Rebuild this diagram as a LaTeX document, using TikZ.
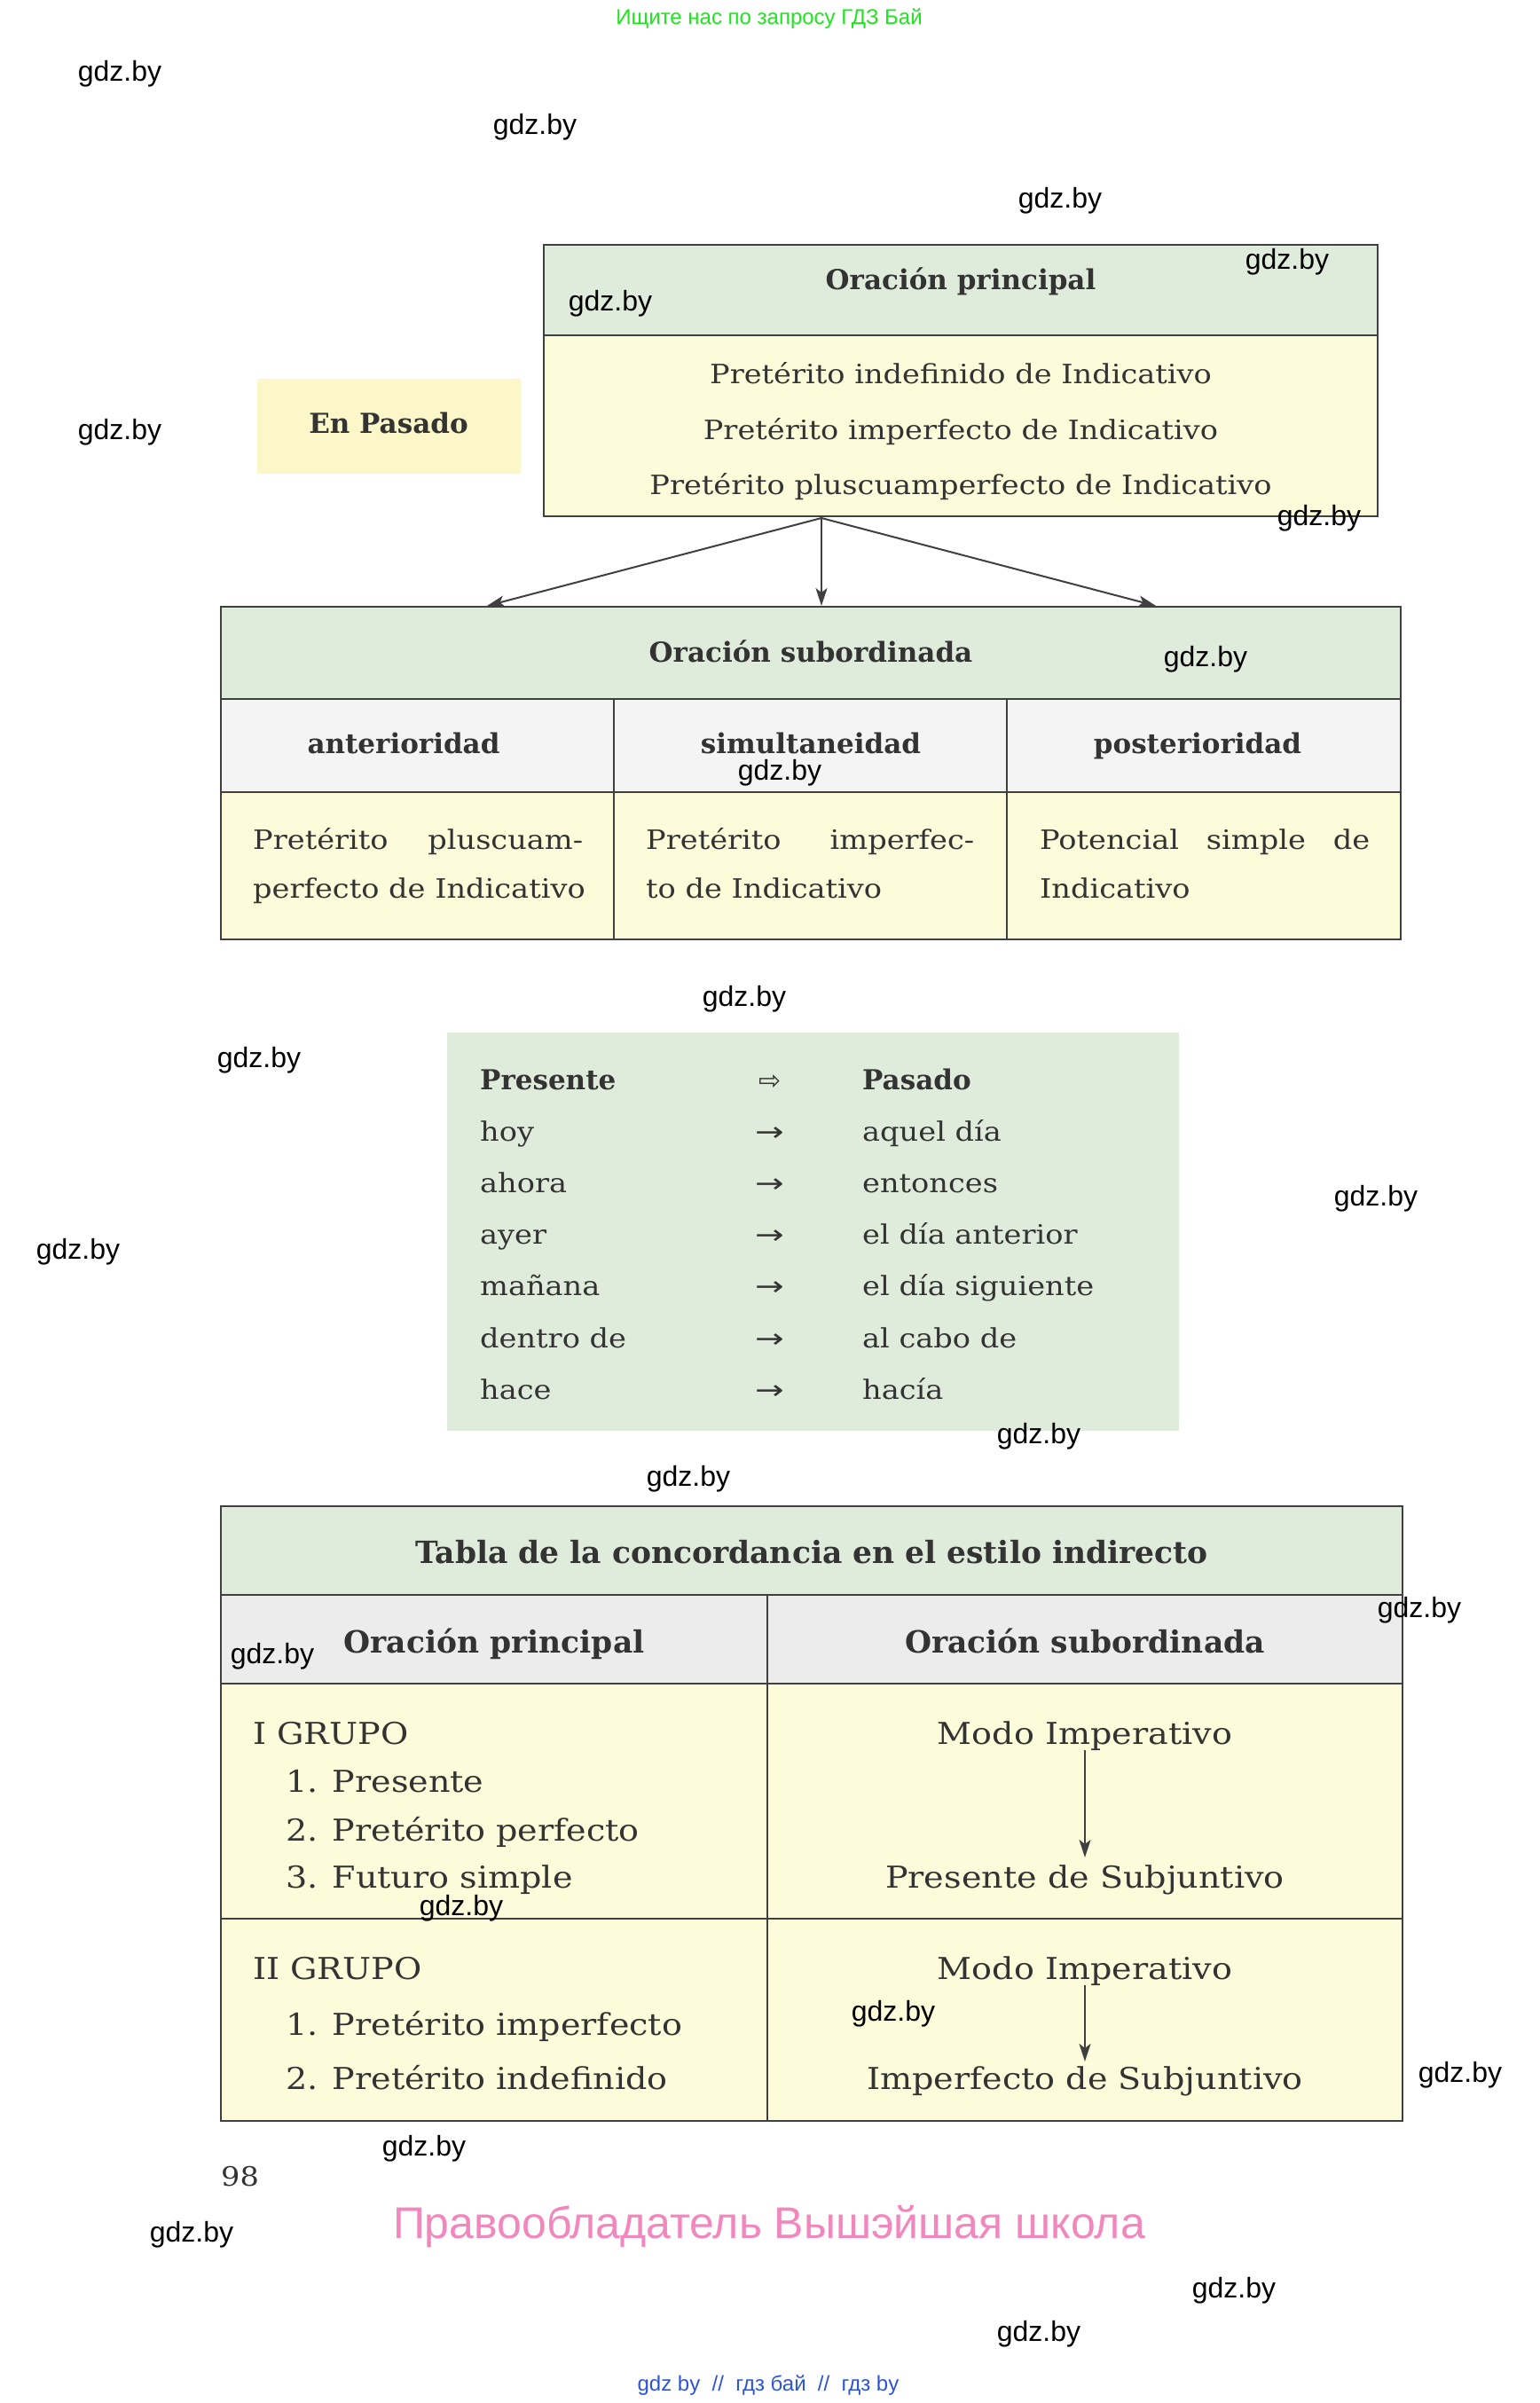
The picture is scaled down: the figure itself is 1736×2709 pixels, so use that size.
\documentclass[tikz,border=0pt]{standalone}
\usepackage{fontspec}
\usepackage{graphicx}
\setmainfont{DejaVu Serif}
\newfontfamily\widefont[FakeStretch=1.12]{DejaVu Serif}
\newfontfamily\wmfont{Liberation Sans}
\newfontfamily\symfont{DejaVu Sans}
\usetikzlibrary{arrows.meta}

\definecolor{hdrgreen}{RGB}{224,236,219}
\definecolor{bodyyellow}{RGB}{253,252,218}
\definecolor{tagyellow}{RGB}{252,247,200}
\definecolor{subgray}{RGB}{244,244,244}
\definecolor{colgray}{RGB}{236,236,236}
\definecolor{linegray}{RGB}{64,64,64}
\definecolor{inkgray}{RGB}{51,51,51}
\definecolor{topgreen}{RGB}{30,230,30}
\definecolor{rightspink}{RGB}{242,135,190}
\definecolor{linkblue}{RGB}{45,85,215}

\tikzset{
  cell/.style={draw=linegray,line width=2pt,anchor=north west,inner sep=0pt,outer sep=0pt},
  txt/.style={text=inkgray,inner sep=0pt,font=\widefont\fontsize{30}{36}\selectfont},
  hd/.style={txt,font=\fontsize{31}{36}\selectfont\bfseries},
  big/.style={txt,font=\widefont\fontsize{34}{40}\selectfont},
  bighd/.style={txt,font=\fontsize{34.5}{40}\selectfont\bfseries},
  wm/.style={inner sep=0pt,font=\wmfont\fontsize{32}{38}\selectfont},
  arr/.style={draw=linegray,line width=2pt,-{Stealth[length=20pt,width=13pt,inset=5pt]}}
}

\begin{document}
\begin{tikzpicture}[x=1pt,y=-1pt]
  \fill[white] (0,0) rectangle (1736,2709);
  \useasboundingbox (0,0) rectangle (1736,2709);

  % Oracion principal
  \node[cell,fill=hdrgreen,minimum width=940pt,minimum height=102pt] (opHead) at (613,276) {};
  \node[cell,fill=bodyyellow,minimum width=940pt,minimum height=204pt] (opBody) at (613,378) {};
  \node[hd,anchor=base] (opTitle) at (1083,326) {Oración principal};
  \node[txt,anchor=base] (op1) at (1083,432) {Pretérito indefinido de Indicativo};
  \node[txt,anchor=base] (op2) at (1083,495) {Pretérito imperfecto de Indicativo};
  \node[txt,anchor=base] (op3) at (1083,557) {Pretérito pluscuamperfecto de Indicativo};
  \node[fill=tagyellow,anchor=north west,inner sep=0pt,minimum width=297pt,minimum height=107pt] (tag) at (290,427) {};
  \node[hd,anchor=base] (tagText) at (438,488) {En Pasado};

  % Oracion subordinada
  \node[cell,fill=hdrgreen,minimum width=1330pt,minimum height=104pt] (subHead) at (249,684) {};
  \foreach \name/\x/\w in {ant/249/443,sim/692/443,pos/1135/444} {
    \node[cell,fill=subgray,minimum width=\w pt,minimum height=105pt] (\name Head) at (\x,788) {};
    \node[cell,fill=bodyyellow,minimum width=\w pt,minimum height=166pt] (\name Body) at (\x,893) {};
  }
  \node[hd,anchor=base] (subTitle) at (914,746) {Oración subordinada};
  \node[hd,anchor=base] (antLbl) at (455,849) {anterioridad};
  \node[hd,anchor=base] (simLbl) at (914,849) {simultaneidad};
  \node[hd,anchor=base] (posLbl) at (1350,849) {posterioridad};
  \node[txt,anchor=base west] (ant1) at (285,957) {\makebox[372pt][s]{Pretérito pluscuam-}};
  \node[txt,anchor=base west] (ant2) at (285,1012) {perfecto de Indicativo};
  \node[txt,anchor=base west] (sim1) at (728,957) {\makebox[370pt][s]{Pretérito imperfec-}};
  \node[txt,anchor=base west] (sim2) at (728,1012) {to de Indicativo};
  \node[txt,anchor=base west] (pos1) at (1172,957) {\makebox[372pt][s]{Potencial simple de}};
  \node[txt,anchor=base west] (pos2) at (1172,1012) {Indicativo};

  \coordinate (fork) at (926,584);
  \coordinate (antTip) at (549,683);
  \coordinate (simTip) at (926,683);
  \coordinate (posTip) at (1303,683);
  \foreach \to in {antTip,simTip,posTip}
    \draw[arr] (fork) -- (\to);

  % Presente -> Pasado
  \node[fill=hdrgreen,anchor=north west,inner sep=0pt,minimum width=825pt,minimum height=449pt] (advBox) at (504,1164) {};
  \node[hd,anchor=base west] (presHead) at (541,1228) {Presente};
  \node[txt,anchor=base] (convHead) at (868,1228) {\symfont\fontsize{30}{34}\selectfont ⇨};
  \node[hd,anchor=base west] (pasHead) at (972,1228) {Pasado};
  \foreach \pres/\pas [count=\i] in {hoy/aquel día,ahora/entonces,ayer/el día anterior,mañana/el día siguiente,dentro de/al cabo de,hace/hacía} {
    \node[txt,anchor=base west] (pres\i) at (541,1228+58.2*\i) {\pres};
    \node[txt,anchor=base] (conv\i) at (868,1228+58.2*\i) {\symfont\fontsize{30}{36}\selectfont\scalebox{1.3}[1]{→}};
    \node[txt,anchor=base west] (pas\i) at (972,1228+58.2*\i) {\pas};
  }

  % Tabla de la concordancia
  \node[cell,fill=hdrgreen,minimum width=1332pt,minimum height=100pt] (tblHead) at (249,1698) {};
  \node[cell,fill=colgray,minimum width=616pt,minimum height=100pt] (mainCol) at (249,1798) {};
  \node[cell,fill=colgray,minimum width=716pt,minimum height=100pt] (subCol) at (865,1798) {};
  \node[cell,fill=bodyyellow,minimum width=616pt,minimum height=265pt] (grpOneL) at (249,1898) {};
  \node[cell,fill=bodyyellow,minimum width=716pt,minimum height=265pt] (grpOneR) at (865,1898) {};
  \node[cell,fill=bodyyellow,minimum width=616pt,minimum height=228pt] (grpTwoL) at (249,2163) {};
  \node[cell,fill=bodyyellow,minimum width=716pt,minimum height=228pt] (grpTwoR) at (865,2163) {};
  \node[bighd,anchor=base] (tblTitle) at (915,1762) {Tabla de la concordancia en el estilo indirecto};
  \node[bighd,anchor=base] (mainLbl) at (557,1863) {Oración principal};
  \node[bighd,anchor=base] (subLbl) at (1223,1863) {Oración subordinada};

  \node[big,anchor=base west] (grp1) at (285,1966) {I GRUPO};
  \node[big,anchor=base west] (g1a) at (322,2020) {1. Presente};
  \node[big,anchor=base west] (g1b) at (322,2075) {2. Pretérito perfecto};
  \node[big,anchor=base west] (g1c) at (322,2128) {3. Futuro simple};
  \node[big,anchor=base] (modo1) at (1223,1966) {Modo Imperativo};
  \node[big,anchor=base] (subj1) at (1223,2128) {Presente de Subjuntivo};
  \draw[arr,shorten >=8pt] (modo1) -- (subj1);

  \node[big,anchor=base west] (grp2) at (285,2231) {II GRUPO};
  \node[big,anchor=base west] (g2a) at (322,2294) {1. Pretérito imperfecto};
  \node[big,anchor=base west] (g2b) at (322,2355) {2. Pretérito indefinido};
  \node[big,anchor=base] (modo2) at (1223,2231) {Modo Imperativo};
  \node[big,anchor=base] (subj2) at (1223,2355) {Imperfecto de Subjuntivo};
  \draw[arr,shorten >=5pt] (modo2) -- (subj2);

  \node[txt,anchor=base west] (pageNum) at (249,2464) {98};

  % page marks
  \node[anchor=base,inner sep=0pt,text=topgreen,font=\wmfont\fontsize{24}{28}\selectfont] (search) at (867,27) {Ищите нас по запросу ГДЗ Бай};
  \node[anchor=base,inner sep=0pt,text=rightspink,font=\wmfont\fontsize{50}{58}\selectfont] (rights) at (867,2523) {Правообладатель Вышэйшая школа};
  \node[anchor=base,inner sep=0pt,text=linkblue,font=\wmfont\fontsize{24}{28}\selectfont] (links) at (866,2695) {gdz by\ \ //\ \ гдз бай\ \ //\ \ гдз by};
  \foreach \x/\y [count=\k] in {135/83,603/143,1195/226,1451/295,688/342,135/487,1487/584,1359/743,
      879/871,839/1126,292/1195,1551/1351,88/1411,1171/1619,776/1667,1600/1815,307/1867,
      520/2151,1007/2270,1646/2339,478/2422,216/2519,1391/2582,1171/2631}
    \node[wm] (wm\k) at (\x,\y) {gdz.by};
\end{tikzpicture}
\end{document}
